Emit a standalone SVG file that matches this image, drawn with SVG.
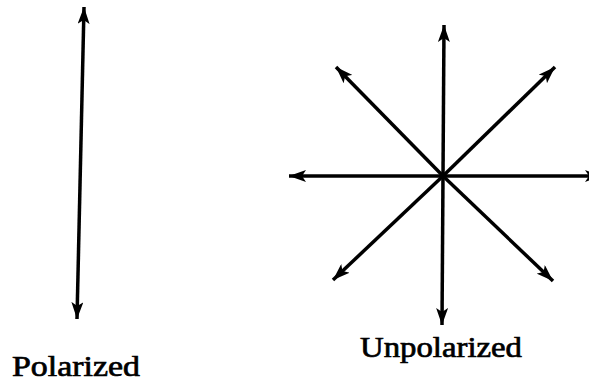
<svg xmlns="http://www.w3.org/2000/svg" width="589" height="382" viewBox="0 0 589 382">
<style>
.ray{stroke:#000;stroke-width:3.5;fill:none;marker-end:url(#ah)}
.dbl{stroke:#000;stroke-width:3.5;fill:none;marker-end:url(#ah);marker-start:url(#ah)}
.lbl{font-family:"Liberation Serif","DejaVu Serif",serif;font-size:29px;fill:#000;stroke:#000;stroke-width:0.7}
</style>
<defs>
<marker id="ah" markerUnits="userSpaceOnUse" markerWidth="18" markerHeight="12" refX="17" refY="6" orient="auto-start-reverse" viewBox="0 0 18 12">
<path d="M0,0 L17,6 L0,12 L4,6 z" fill="#000"/>
</marker>
</defs>
<rect width="589" height="382" fill="#fff"/>
<g id="connectors">
<line id="polarized-arrow" class="dbl" x1="84" y1="7" x2="77" y2="319"/>
<line class="ray" x1="443" y1="176" x2="444" y2="25"/>
<line class="ray" x1="443" y1="176" x2="442" y2="325"/>
<line class="ray" x1="443" y1="176" x2="289" y2="176"/>
<line class="ray" x1="443" y1="176" x2="602" y2="176"/>
<line class="ray" x1="443" y1="176" x2="336" y2="67"/>
<line class="ray" x1="443" y1="176" x2="555" y2="67"/>
<line class="ray" x1="443" y1="176" x2="333" y2="280"/>
<line class="ray" x1="443" y1="176" x2="553" y2="281"/>
</g>
<g id="label-polarized">
<text class="lbl" x="12" y="376" textLength="128" lengthAdjust="spacingAndGlyphs">Polarized</text>
</g>
<g id="label-unpolarized">
<text class="lbl" x="360" y="357" textLength="162" lengthAdjust="spacingAndGlyphs">Unpolarized</text>
</g>
</svg>
